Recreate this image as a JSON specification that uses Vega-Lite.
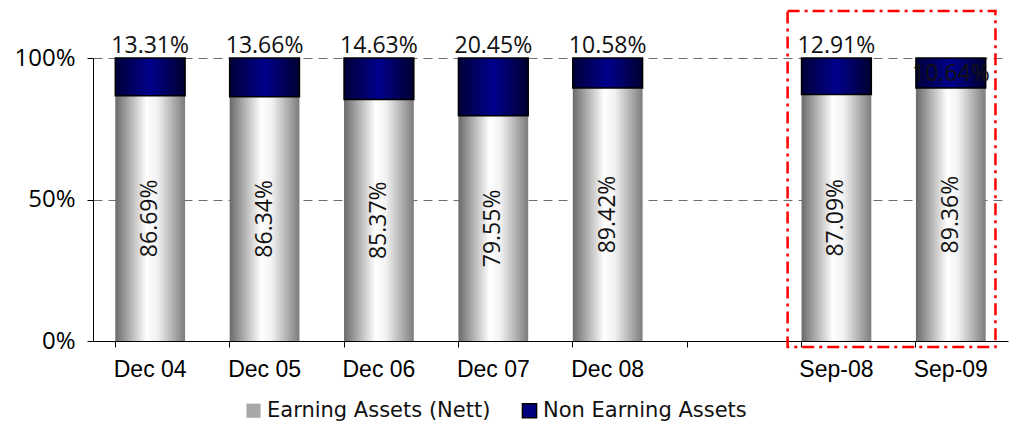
{
  "$schema": "https://vega.github.io/schema/vega-lite/v6.json",
  "autosize": {"type": "none"},
  "width": 915,
  "height": 283,
  "padding": {"left": 93, "top": 58, "right": 5, "bottom": 83},
  "background": "white",
  "config": {"view": {"stroke": null}},
  "datasets": {
    "main": [
      {"period": "Dec 04", "series": "Earning Assets (Nett)", "value": 86.69},
      {"period": "Dec 04", "series": "Non Earning Assets", "value": 13.31},
      {"period": "Dec 05", "series": "Earning Assets (Nett)", "value": 86.34},
      {"period": "Dec 05", "series": "Non Earning Assets", "value": 13.66},
      {"period": "Dec 06", "series": "Earning Assets (Nett)", "value": 85.37},
      {"period": "Dec 06", "series": "Non Earning Assets", "value": 14.63},
      {"period": "Dec 07", "series": "Earning Assets (Nett)", "value": 79.55},
      {"period": "Dec 07", "series": "Non Earning Assets", "value": 20.45},
      {"period": "Dec 08", "series": "Earning Assets (Nett)", "value": 89.42},
      {"period": "Dec 08", "series": "Non Earning Assets", "value": 10.58},
      {"period": "Sep-08", "series": "Earning Assets (Nett)", "value": 87.09},
      {"period": "Sep-08", "series": "Non Earning Assets", "value": 12.91},
      {"period": "Sep-09", "series": "Earning Assets (Nett)", "value": 89.36},
      {"period": "Sep-09", "series": "Non Earning Assets", "value": 10.64}
    ],
    "box": [
      {"from": "Sep-08", "to": "Sep-09", "top": 116.6, "bottom": -2.1}
    ]
  },
  "data": {"name": "main"},
  "layer": [
    {
      "mark": {"type": "bar", "strokeWidth": 1.5},
      "encoding": {
        "x": {
          "field": "period", "type": "nominal",
          "scale": {"domain": ["Dec 04", "Dec 05", "Dec 06", "Dec 07", "Dec 08", "gap", "Sep-08", "Sep-09"], "paddingInner": 0.39, "paddingOuter": 0.195},
          "axis": {
            "title": null, "labelAngle": 0, "bandPosition": 0,
            "labelExpr": "datum.value == 'gap' ? '' : datum.value",
            "labelFont": "Liberation Sans", "labelFontSize": 23, "labelColor": "black",
            "labelPadding": 11, "domainColor": "black", "domainWidth": 1,
            "tickColor": "black", "tickSize": 6, "grid": false
          }
        },
        "y": {
          "field": "value", "type": "quantitative", "stack": "zero",
          "scale": {"domain": [0, 100], "nice": false},
          "axis": {
            "title": null, "values": [0, 50, 100],
            "labelExpr": "datum.value + '%'",
            "labelFont": "Open Sans", "labelFontSize": 24, "labelColor": "black",
            "labelPadding": 12, "domainColor": "black", "domainWidth": 1,
            "tickColor": "black", "tickSize": 6,
            "grid": true, "gridColor": "#6e6e6e", "gridDash": [9, 6], "gridWidth": 1
          }
        },
        "order": {"field": "series", "sort": "ascending"},
        "fill": {
          "condition": {
            "test": "datum.series == 'Non Earning Assets'",
            "value": {"gradient": "linear", "x1": 0, "y1": 0, "x2": 1, "y2": 0, "stops": [
              {"offset": 0, "color": "#000038"},
              {"offset": 0.5, "color": "#00008c"},
              {"offset": 1, "color": "#000030"}
            ]}
          },
          "value": {"gradient": "linear", "x1": 0, "y1": 0, "x2": 1, "y2": 0, "stops": [
            {"offset": 0, "color": "#6a6a6a"},
            {"offset": 0.45, "color": "#ffffff"},
            {"offset": 0.6, "color": "#f2f2f2"},
            {"offset": 1, "color": "#7c7c7c"}
          ]}
        },
        "stroke": {
          "condition": {"test": "datum.series == 'Non Earning Assets'", "value": "black"},
          "value": null
        }
      }
    },
    {
      "mark": {"type": "square", "opacity": 0, "size": 1},
      "encoding": {
        "x": {"field": "period", "type": "nominal"},
        "y": {"datum": 0},
        "fill": {
          "field": "series", "type": "nominal",
          "scale": {"domain": ["Earning Assets (Nett)", "Non Earning Assets"], "range": ["#a8a8a8", "#000080"]},
          "legend": {
            "title": null, "orient": "none", "legendX": 150, "legendY": 342,
            "direction": "horizontal", "symbolType": "square", "symbolSize": 200,
            "symbolOpacity": 1, "symbolStrokeWidth": 1.5, "labelLimit": 0,
            "labelFont": "DejaVu Sans", "labelFontSize": 21, "labelColor": "#111111",
            "columnPadding": 28, "labelOffset": 3
          }
        },
        "stroke": {
          "field": "series", "type": "nominal",
          "scale": {"domain": ["Earning Assets (Nett)", "Non Earning Assets"], "range": ["transparent", "black"]},
          "legend": {
            "title": null, "orient": "none", "legendX": 150, "legendY": 342,
            "direction": "horizontal", "symbolType": "square", "symbolSize": 200,
            "symbolOpacity": 1, "symbolStrokeWidth": 1.5, "labelLimit": 0,
            "labelFont": "DejaVu Sans", "labelFontSize": 21, "labelColor": "#111111",
            "columnPadding": 28, "labelOffset": 3
          }
        }
      }
    },
    {
      "transform": [
        {"filter": "datum.series == 'Earning Assets (Nett)'"},
        {"calculate": "datum.value / 2", "as": "mid"},
        {"calculate": "format(datum.value, '.2f') + '%'", "as": "lbl"}
      ],
      "mark": {"type": "text", "angle": 270, "font": "Open Sans", "fontSize": 23, "color": "#111111", "baseline": "middle", "align": "center"},
      "encoding": {
        "x": {"field": "period", "type": "nominal"},
        "y": {"field": "mid", "type": "quantitative"},
        "text": {"field": "lbl", "type": "nominal"}
      }
    },
    {
      "transform": [
        {"filter": "datum.series == 'Non Earning Assets' && datum.period != 'Sep-09'"},
        {"calculate": "format(datum.value, '.2f') + '%'", "as": "lbl"}
      ],
      "mark": {"type": "text", "font": "Open Sans", "fontSize": 23, "color": "#111111", "baseline": "alphabetic", "align": "center", "dy": -5},
      "encoding": {
        "x": {"field": "period", "type": "nominal"},
        "y": {"datum": 100},
        "text": {"field": "lbl", "type": "nominal"}
      }
    },
    {
      "transform": [
        {"filter": "datum.series == 'Non Earning Assets' && datum.period == 'Sep-09'"},
        {"calculate": "format(datum.value, '.2f') + '%'", "as": "lbl"}
      ],
      "mark": {"type": "text", "font": "Open Sans", "fontSize": 23, "color": "#111111", "baseline": "middle", "align": "center", "dy": 16},
      "encoding": {
        "x": {"field": "period", "type": "nominal"},
        "y": {"datum": 100},
        "text": {"field": "lbl", "type": "nominal"}
      }
    },
    {
      "data": {"name": "box"},
      "mark": {"type": "rect", "fill": "transparent", "stroke": "#ff0000", "strokeWidth": 2.5, "strokeDash": [12, 5, 3, 5], "clip": false},
      "encoding": {
        "x": {"field": "from", "type": "nominal", "bandPosition": -0.2},
        "x2": {"field": "to", "bandPosition": 1.14},
        "y": {"field": "top", "type": "quantitative"},
        "y2": {"field": "bottom"}
      }
    }
  ]
}
